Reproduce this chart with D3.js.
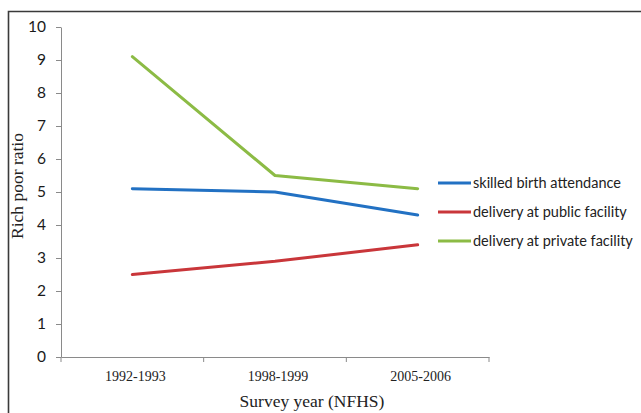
<!DOCTYPE html>
<html>
<head>
<meta charset="utf-8">
<script src="https://cdn.jsdelivr.net/npm/d3@7"></script>
<style>
  html, body { margin: 0; padding: 0; background: #fff; }
  svg { display: block; }
</style>
</head>
<body>
<svg id="chart" width="641" height="413"></svg>
<script>
// Survey rounds and rich/poor ratios per indicator
const surveys = ["1992-1993", "1998-1999", "2005-2006"];
const skilledBirth = [5.1, 5.0, 4.3];
const publicFacility = [2.5, 2.9, 3.4];
const privateFacility = [9.1, 5.5, 5.1];
const yTicks = [0, 1, 2, 3, 4, 5, 6, 7, 8, 9, 10];

const series = [
  { name: "skilled birth attendance", values: skilledBirth, color: "#2271c3" },
  { name: "delivery at public facility", values: publicFacility, color: "#c9363a" },
  { name: "delivery at private facility", values: privateFacility, color: "#8cbb45" }
];

const svg = d3.select("#chart");
const W = 641, H = 413;
const plot = { left: 61, right: 489, top: 27, bottom: 357 };

// outer frame (left and top edges visible)
svg.append("path")
  .attr("d", `M8.5,${H} L8.5,11.5 L${W},11.5`)
  .attr("fill", "none")
  .attr("stroke", "#3a3a3a")
  .attr("stroke-width", 1.6);

const x = d3.scaleBand().domain(surveys).range([plot.left, plot.right]);
const y = d3.scaleLinear().domain([0, 10]).range([plot.bottom, plot.top]);

// y axis
const yAxis = svg.append("g")
  .attr("transform", `translate(${plot.left},0)`)
  .call(d3.axisLeft(y).tickValues(yTicks).tickSize(5).tickPadding(10).tickSizeOuter(0));
yAxis.select(".domain").attr("stroke", "#8a8a8a");
yAxis.selectAll(".tick line").attr("stroke", "#8a8a8a");
yAxis.selectAll(".tick text")
  .attr("font-family", "Lato, 'Open Sans', sans-serif")
  .attr("font-size", 15.5)
  .attr("fill", "#1a1a1a");

// x axis with ticks on band boundaries
const xAxis = svg.append("g")
  .attr("transform", `translate(0,${plot.bottom})`)
  .call(d3.axisBottom(x).tickSize(0).tickPadding(14));
xAxis.select(".domain").attr("stroke", "#8a8a8a");
xAxis.selectAll(".tick text")
  .attr("dx", 3)
  .attr("font-family", "'Liberation Serif', 'Times New Roman', serif")
  .attr("font-size", 14)
  .attr("fill", "#222");
const bounds = surveys.map(s => x(s)).concat([x.range()[1]]);
svg.append("g").selectAll("line")
  .data(bounds)
  .join("line")
  .attr("x1", d => d).attr("x2", d => d)
  .attr("y1", plot.bottom).attr("y2", plot.bottom + 5)
  .attr("stroke", "#8a8a8a");

// axis titles
svg.append("text")
  .attr("transform", "translate(23,186) rotate(-90)")
  .attr("text-anchor", "middle")
  .attr("font-family", "'Liberation Serif', 'Times New Roman', serif")
  .attr("font-size", 17.5)
  .attr("fill", "#222")
  .text("Rich poor ratio");

svg.append("text")
  .attr("x", 312)
  .attr("y", 407)
  .attr("text-anchor", "middle")
  .attr("font-family", "'Liberation Serif', 'Times New Roman', serif")
  .attr("font-size", 17.5)
  .attr("fill", "#222")
  .text("Survey year (NFHS)");

// series lines
const line = d3.line()
  .x((d, i) => x(surveys[i]) + x.bandwidth() / 2)
  .y(d => y(d));

svg.append("g").selectAll("path")
  .data(series)
  .join("path")
  .attr("d", d => line(d.values))
  .attr("fill", "none")
  .attr("stroke", d => d.color)
  .attr("stroke-width", 3)
  .attr("stroke-linejoin", "round")
  .attr("stroke-linecap", "round");

// legend
const legend = svg.append("g").attr("transform", "translate(438,183)");
const item = legend.selectAll("g")
  .data(series)
  .join("g")
  .attr("transform", (d, i) => `translate(0,${i * 29})`);
item.append("line")
  .attr("x1", 0).attr("x2", 33)
  .attr("stroke", d => d.color)
  .attr("stroke-width", 3);
item.append("text")
  .attr("x", 35)
  .attr("dy", "0.35em")
  .attr("font-family", "Lato, 'Open Sans', sans-serif")
  .attr("font-size", 14.5)
  .attr("fill", "#222")
  .text(d => d.name);
</script>
</body>
</html>
